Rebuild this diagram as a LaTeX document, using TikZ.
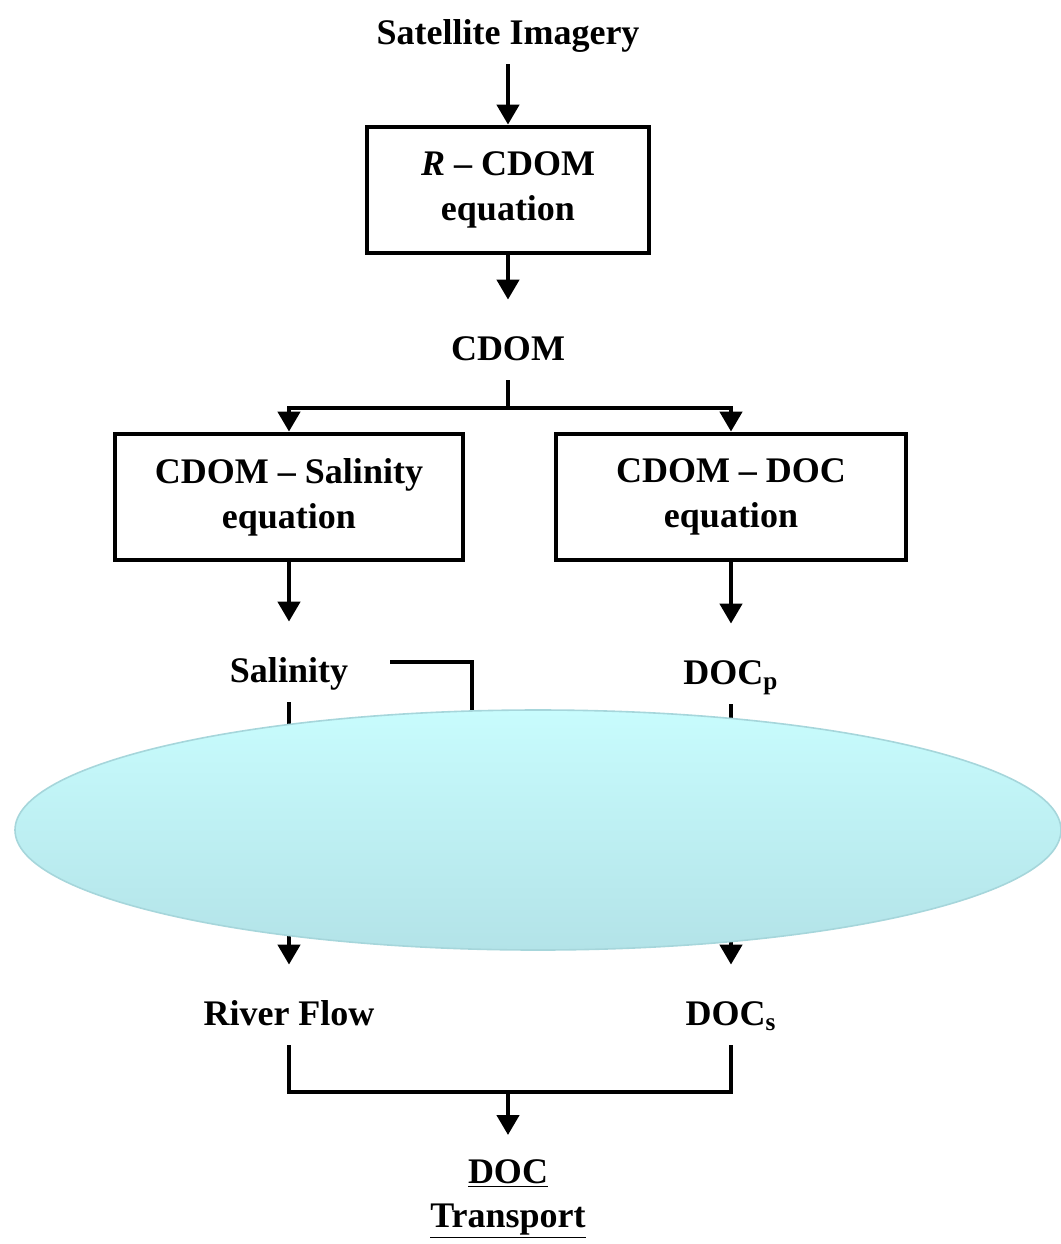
\documentclass[tikz,border=0pt]{standalone}
\usepackage{fontspec}
\setmainfont{Liberation Serif}
\usetikzlibrary{positioning,arrows.meta}
\definecolor{elltop}{HTML}{C8FCFD}
\definecolor{ellbot}{HTML}{B3E3E8}
\definecolor{ellline}{HTML}{A6D6DB}

\begin{document}
\begin{tikzpicture}[x=0.5pt, y=-0.5pt,
  font=\bfseries\fontsize{18}{22.5}\selectfont,
  eqbox/.style={draw, line width=2.4pt, align=center, minimum height=63pt, inner sep=0pt},
  lbl/.style={anchor=base, inner sep=0pt, text height=30pt, text depth=10pt},
  link/.style={line width=2.2pt},
  arr/.style={link, -{Triangle[width=11pt,length=10pt]}}]
  \useasboundingbox (0,0) rectangle (1061,1244);
  \node[lbl] (sat) at (508,44) {Satellite Imagery};
  \node[eqbox, minimum width=141pt] (rcdom) at (508,190) {\textit{R} -- CDOM\\equation};
  \node[lbl] (cdom) at (508,360) {CDOM};
  \node[eqbox, minimum width=174pt] (salbox) at (289,497) {CDOM -- Salinity\\equation};
  \node[eqbox, minimum width=175pt] (docbox) at (731,497) {CDOM -- DOC\\equation};
  \node[lbl] (sal) at (289,682) {Salinity};
  \node[lbl] (docp) at (731,684) {DOC\textsubscript{p}};
  \node[lbl] (flow) at (289,1025) {River Flow};
  \node[lbl] (docs) at (731,1025) {DOC\textsubscript{s}};
  \node[anchor=north, align=center, inner ysep=12pt, inner xsep=0pt,
        font=\bfseries\fontsize{18}{22}\selectfont] (trans) at (508,1135)
        {\underline{DOC}\\\underline{Transport}};
  \coordinate (split) at (508,408);
  \coordinate (join) at (508,1092);
  \coordinate (hid) at (472,830);

  \draw[arr] (sat.south) -- (rcdom.north);
  \draw[arr] (rcdom.south) -- (cdom.north);
  \draw[link] (cdom.south) -- (split);
  \draw[arr] (split) -| (salbox.north);
  \draw[arr] (split) -| (docbox.north);
  \draw[arr] (salbox.south) -- (sal.north);
  \draw[arr] (docbox.south) -- (docp.north);
  \draw[arr] (sal.south) -- (flow.north);
  \draw[arr] (docp.south) -- (docs.north);
  \draw[link] ([xshift=21pt]sal.east) -| (hid);
  \draw[link] (flow.south) |- (join) -| (docs.south);
  \draw[arr] (join) -- (trans.north);

  \draw[draw=ellline, line width=0.8pt, top color=elltop, bottom color=ellbot]
    (538,830) ellipse [x radius=261.5pt, y radius=60pt];
\end{tikzpicture}
\end{document}
